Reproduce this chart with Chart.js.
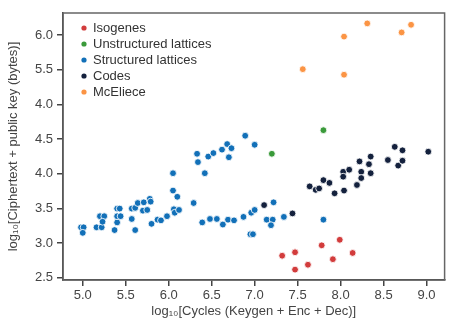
<!DOCTYPE html>
<html>
<head>
<meta charset="utf-8">
<script src="https://cdn.jsdelivr.net/npm/chart.js@4.4.1/dist/chart.umd.min.js"></script>
<style>
    html, body { margin: 0; padding: 0; background: #fff; }
    #wrap { width: 449px; height: 320px; }
</style>
</head>
<body>
<div id="wrap"><canvas id="scatter"></canvas></div>
<script>
// data: [log10 cycles, log10 bytes]
const isogenes = [
    [7.32, 2.82], [7.47, 2.87], [7.47, 2.62], [7.62, 2.69], [7.78, 2.97],
    [7.91, 2.77], [7.99, 3.05], [8.14, 2.86]
];
const unstructuredLattices = [
    [7.20, 4.29], [7.80, 4.63]
];
const structuredLattices = [
    [4.98, 3.23], [5.01, 3.23], [5.00, 3.15], [5.16, 3.23], [5.22, 3.23],
    [5.20, 3.39], [5.25, 3.39], [5.23, 3.31], [5.37, 3.19], [5.40, 3.30],
    [5.40, 3.39], [5.44, 3.39], [5.40, 3.50], [5.43, 3.50], [5.57, 3.50],
    [5.57, 3.35], [5.61, 3.19], [5.61, 3.51], [5.64, 3.58], [5.71, 3.59],
    [5.70, 3.47], [5.75, 3.48], [5.78, 3.64], [5.79, 3.60], [5.80, 3.28],
    [5.87, 3.34], [5.91, 3.33], [5.98, 3.39], [6.05, 4.01], [6.05, 3.76],
    [6.10, 3.67], [6.06, 3.49], [6.07, 3.44], [6.12, 3.48], [6.29, 3.58],
    [6.34, 4.17], [6.33, 4.29], [6.42, 4.01], [6.46, 4.25], [6.52, 4.30],
    [6.62, 4.35], [6.68, 4.43], [6.73, 4.37], [6.70, 4.24], [6.89, 4.55],
    [7.00, 4.42], [6.39, 3.30], [6.48, 3.35], [6.56, 3.35], [6.63, 3.27],
    [6.69, 3.34], [6.76, 3.33], [6.87, 3.38], [6.96, 3.44], [7.00, 3.48],
    [7.22, 3.59], [7.14, 3.34], [7.21, 3.34], [7.19, 3.26], [7.34, 3.38],
    [7.80, 3.34], [6.95, 3.13], [6.98, 3.13]
];
const codes = [
    [7.11, 3.55], [7.44, 3.43], [7.64, 3.82], [7.71, 3.77], [7.75, 3.79],
    [7.80, 3.91], [7.87, 3.87], [7.93, 3.72], [8.03, 4.03], [8.03, 3.96],
    [8.04, 3.76], [8.10, 4.06], [8.19, 3.84], [8.22, 4.18], [8.24, 4.03],
    [8.24, 3.94], [8.33, 4.14], [8.35, 4.25], [8.35, 4.01], [8.55, 4.20],
    [8.63, 4.39], [8.67, 4.12], [8.72, 4.34], [8.72, 4.19], [9.02, 4.32]
];
const mcEliece = [
    [7.56, 5.51], [8.04, 5.98], [8.04, 5.43], [8.31, 6.17], [8.71, 6.04], [8.82, 6.15]
];

const xTickValues = [5.0, 5.5, 6.0, 6.5, 7.0, 7.5, 8.0, 8.5, 9.0];
const yTickValues = [2.5, 3.0, 3.5, 4.0, 4.5, 5.0, 5.5, 6.0];
// the y labels as printed in the figure (5.0 is labelled "4.0" there)
const yTickLabels = ['2.5', '3.0', '3.5', '4.0', '4.5', '4.0', '5.5', '6.0'];

const toXY = arr => arr.map(p => ({x: p[0], y: p[1]}));

function series(label, pts, color) {
    return {
        label: label,
        data: toXY(pts),
        backgroundColor: color,
        borderColor: 'rgba(255,255,255,0.85)',
        borderWidth: 1,
        pointRadius: 3.4,
        pointHoverRadius: 3.4
    };
}

// legend drawn inside the plot, top left
const innerLegend = {
    id: 'innerLegend',
    afterDraw(chart) {
        const c = chart.ctx;
        const a = chart.chartArea;
        c.save();
        // frame round the plot
        c.strokeStyle = '#666';
        c.lineWidth = 1.5;
        c.strokeRect(a.left, a.top, a.right - a.left, a.bottom - a.top);
        c.font = '13px "Liberation Sans", Arial, sans-serif';
        c.textBaseline = 'middle';
        chart.data.datasets.forEach((ds, i) => {
            const y = a.top + 15 + i * 16;
            c.fillStyle = ds.backgroundColor;
            c.beginPath();
            c.arc(a.left + 21, y, 2.6, 0, Math.PI * 2);
            c.fill();
            c.fillStyle = '#333';
            c.fillText(ds.label, a.left + 30, y + 0.5);
        });
        c.restore();
    }
};

const tickFont = {family: '"Liberation Sans", Arial, sans-serif', size: 13};
const titleFont = {family: '"Liberation Sans", Arial, sans-serif', size: 13};

new Chart(document.getElementById('scatter'), {
    type: 'scatter',
    data: {
        datasets: [
            series('Isogenes', isogenes, '#d23c3c'),
            series('Unstructured lattices', unstructuredLattices, '#3a9a3a'),
            series('Structured lattices', structuredLattices, '#1270b8'),
            series('Codes', codes, '#14213d'),
            series('McEliece', mcEliece, '#fb9444')
        ]
    },
    options: {
        responsive: true,
        maintainAspectRatio: false,
        animation: false,
        layout: {
            padding: {top: 13, right: 1, left: 0, bottom: 0}
        },
        plugins: {
            legend: {display: false},
            tooltip: {enabled: false}
        },
        scales: {
            x: {
                type: 'linear',
                min: 4.77,
                max: 9.21,
                afterBuildTicks: s => { s.ticks = xTickValues.map(v => ({value: v})); },
                afterFit: s => { s.height = 40; },
                ticks: {
                    color: '#444',
                    font: tickFont,
                    padding: 2,
                    callback: v => v.toFixed(1)
                },
                grid: {
                    drawOnChartArea: false,
                    drawTicks: true,
                    tickLength: 6,
                    color: '#444',
                    lineWidth: 1.5
                },
                border: {color: '#333', width: 1.5},
                title: {
                    display: true,
                    text: 'log\u2081\u2080[Cycles (Keygen + Enc + Dec)]',
                    color: '#444',
                    font: titleFont,
                    padding: {top: 0, bottom: 1}
                }
            },
            y: {
                type: 'linear',
                min: 2.47,
                max: 6.32,
                afterBuildTicks: s => { s.ticks = yTickValues.map(v => ({value: v})); },
                afterFit: s => { s.width = 63; },
                ticks: {
                    color: '#444',
                    font: tickFont,
                    padding: 4,
                    callback: (v, i) => yTickLabels[i]
                },
                grid: {
                    drawOnChartArea: false,
                    drawTicks: true,
                    tickLength: 6,
                    color: '#444',
                    lineWidth: 1.5
                },
                border: {color: '#333', width: 1.5},
                title: {
                    display: true,
                    text: 'log\u2081\u2080[Ciphertext + public key (bytes)]',
                    color: '#444',
                    font: titleFont,
                    padding: {top: 6, bottom: 0}
                }
            }
        }
    },
    plugins: [innerLegend]
});
</script>
</body>
</html>
